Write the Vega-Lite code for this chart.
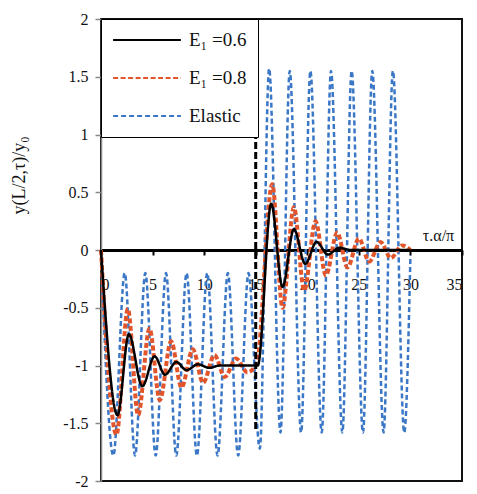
{
  "$schema": "https://vega.github.io/schema/vega-lite/v6.json",
  "autosize": "none",
  "padding": {"left": 101, "top": 19, "right": 15, "bottom": 13},
  "width": 361,
  "height": 462,
  "background": "white",
  "config": {
    "view": {"stroke": "#111", "strokeWidth": 2},
    "font": "Liberation Serif",
    "legend": {
      "title": null, "orient": "top-left", "offset": 0, "padding": 11,
      "strokeColor": "black", "fillColor": "white",
      "symbolType": "stroke", "symbolSize": 4600, "symbolStrokeWidth": 2,
      "clipHeight": 20, "rowPadding": 18,
      "labelFont": "Liberation Serif", "labelFontSize": 19, "labelColor": "#111", "labelOffset": 7
    }
  },
  "datasets": {
    "curves": [
      {"t": 0, "y": 0, "series": "Elastic"},
      {"t": 1.2, "y": -1.78, "series": "Elastic"},
      {"t": 2.3, "y": -0.2, "series": "Elastic"},
      {"t": 3.3, "y": -1.78, "series": "Elastic"},
      {"t": 4.3, "y": -0.2, "series": "Elastic"},
      {"t": 5.3, "y": -1.78, "series": "Elastic"},
      {"t": 6.3, "y": -0.2, "series": "Elastic"},
      {"t": 7.3, "y": -1.78, "series": "Elastic"},
      {"t": 8.3, "y": -0.2, "series": "Elastic"},
      {"t": 9.3, "y": -1.78, "series": "Elastic"},
      {"t": 10.3, "y": -0.2, "series": "Elastic"},
      {"t": 11.3, "y": -1.78, "series": "Elastic"},
      {"t": 12.3, "y": -0.2, "series": "Elastic"},
      {"t": 13.3, "y": -1.78, "series": "Elastic"},
      {"t": 14.3, "y": -0.2, "series": "Elastic"},
      {"t": 15.4, "y": -1.72, "series": "Elastic"},
      {"t": 16.3, "y": 1.57, "series": "Elastic"},
      {"t": 17.4, "y": -1.58, "series": "Elastic"},
      {"t": 18.3, "y": 1.55, "series": "Elastic"},
      {"t": 19.4, "y": -1.58, "series": "Elastic"},
      {"t": 20.3, "y": 1.55, "series": "Elastic"},
      {"t": 21.4, "y": -1.58, "series": "Elastic"},
      {"t": 22.3, "y": 1.55, "series": "Elastic"},
      {"t": 23.4, "y": -1.58, "series": "Elastic"},
      {"t": 24.3, "y": 1.55, "series": "Elastic"},
      {"t": 25.4, "y": -1.58, "series": "Elastic"},
      {"t": 26.3, "y": 1.55, "series": "Elastic"},
      {"t": 27.4, "y": -1.58, "series": "Elastic"},
      {"t": 28.3, "y": 1.55, "series": "Elastic"},
      {"t": 29.4, "y": -1.58, "series": "Elastic"},
      {"t": 30, "y": -0.05, "series": "Elastic"},

      {"t": 0, "y": 0, "series": "E₁ =0.8"},
      {"t": 1.5, "y": -1.6, "series": "E₁ =0.8"},
      {"t": 2.6, "y": -0.51, "series": "E₁ =0.8"},
      {"t": 3.6, "y": -1.43, "series": "E₁ =0.8"},
      {"t": 4.7, "y": -0.68, "series": "E₁ =0.8"},
      {"t": 5.7, "y": -1.3, "series": "E₁ =0.8"},
      {"t": 6.8, "y": -0.79, "series": "E₁ =0.8"},
      {"t": 7.8, "y": -1.19, "series": "E₁ =0.8"},
      {"t": 8.9, "y": -0.86, "series": "E₁ =0.8"},
      {"t": 9.9, "y": -1.15, "series": "E₁ =0.8"},
      {"t": 11.0, "y": -0.91, "series": "E₁ =0.8"},
      {"t": 12.0, "y": -1.1, "series": "E₁ =0.8"},
      {"t": 13.1, "y": -0.94, "series": "E₁ =0.8"},
      {"t": 14.2, "y": -1.06, "series": "E₁ =0.8"},
      {"t": 15.1, "y": -0.98, "series": "E₁ =0.8"},
      {"t": 16.6, "y": 0.57, "series": "E₁ =0.8"},
      {"t": 17.6, "y": -0.5, "series": "E₁ =0.8"},
      {"t": 18.7, "y": 0.37, "series": "E₁ =0.8"},
      {"t": 19.7, "y": -0.35, "series": "E₁ =0.8"},
      {"t": 20.8, "y": 0.25, "series": "E₁ =0.8"},
      {"t": 21.8, "y": -0.22, "series": "E₁ =0.8"},
      {"t": 22.9, "y": 0.15, "series": "E₁ =0.8"},
      {"t": 23.9, "y": -0.15, "series": "E₁ =0.8"},
      {"t": 25.0, "y": 0.1, "series": "E₁ =0.8"},
      {"t": 26.0, "y": -0.1, "series": "E₁ =0.8"},
      {"t": 27.1, "y": 0.07, "series": "E₁ =0.8"},
      {"t": 28.1, "y": -0.07, "series": "E₁ =0.8"},
      {"t": 29.2, "y": 0.04, "series": "E₁ =0.8"},
      {"t": 30, "y": 0, "series": "E₁ =0.8"},

      {"t": 0, "y": 0, "series": "E₁ =0.6"},
      {"t": 1.6, "y": -1.43, "series": "E₁ =0.6"},
      {"t": 2.7, "y": -0.73, "series": "E₁ =0.6"},
      {"t": 4.0, "y": -1.18, "series": "E₁ =0.6"},
      {"t": 5.2, "y": -0.92, "series": "E₁ =0.6"},
      {"t": 6.2, "y": -1.08, "series": "E₁ =0.6"},
      {"t": 7.3, "y": -0.97, "series": "E₁ =0.6"},
      {"t": 8.3, "y": -1.04, "series": "E₁ =0.6"},
      {"t": 9.4, "y": -0.99, "series": "E₁ =0.6"},
      {"t": 10.5, "y": -1.02, "series": "E₁ =0.6"},
      {"t": 11.5, "y": -1.0, "series": "E₁ =0.6"},
      {"t": 15.2, "y": -1.0, "series": "E₁ =0.6"},
      {"t": 16.5, "y": 0.4, "series": "E₁ =0.6"},
      {"t": 17.6, "y": -0.32, "series": "E₁ =0.6"},
      {"t": 18.7, "y": 0.18, "series": "E₁ =0.6"},
      {"t": 19.8, "y": -0.12, "series": "E₁ =0.6"},
      {"t": 20.9, "y": 0.07, "series": "E₁ =0.6"},
      {"t": 22.0, "y": -0.04, "series": "E₁ =0.6"},
      {"t": 23.1, "y": 0.02, "series": "E₁ =0.6"},
      {"t": 24.2, "y": 0, "series": "E₁ =0.6"},
      {"t": 30, "y": 0, "series": "E₁ =0.6"}
    ],
    "marker": [{"t": 15, "lo": -1.55, "hi": 0.97}]
  },
  "encoding": {
    "x": {
      "field": "t", "type": "quantitative",
      "scale": {"domain": [0, 35], "nice": false, "zero": false},
      "axis": {
        "values": [0, 5, 10, 15, 20, 25, 30, 35],
        "labelExpr": "'' + datum.value",
        "offset": -231,
        "domainColor": "black", "domainWidth": 3,
        "tickColor": "black", "tickWidth": 2, "tickSize": 5,
        "labelPadding": 21, "labelFont": "Liberation Serif", "labelFontSize": 16, "labelColor": "#111",
        "grid": false,
        "title": "τ.α/π", "titleFont": "Liberation Serif", "titleFontSize": 16, "titleFontWeight": "normal", "titleColor": "#111",
        "titleX": 337, "titleY": -10, "titleAlign": "center", "titleBaseline": "alphabetic", "titleAngle": 0
      }
    }
  },
  "layer": [
    {
      "data": {"name": "curves"},
      "transform": [{"filter": "datum.series === 'Elastic'"}],
      "mark": {"type": "line", "interpolate": "monotone", "strokeWidth": 2.5},
      "encoding": {
        "y": {
          "field": "y", "type": "quantitative",
          "scale": {"domain": [-2, 2], "nice": false, "zero": false},
          "axis": {
            "values": [-2, -1.5, -1, -0.5, 0, 0.5, 1, 1.5, 2],
            "labelExpr": "'' + datum.value",
            "domainColor": "#888", "domainWidth": 1.5,
            "tickColor": "#888", "tickWidth": 1.5, "tickSize": 6,
            "labelPadding": 7, "labelFont": "Liberation Serif", "labelFontSize": 16, "labelColor": "#111",
            "grid": false,
            "title": "y(L/2,τ)/y₀", "titleFont": "Liberation Serif", "titleFontSize": 18, "titleFontWeight": "normal", "titleColor": "#111",
            "titleX": -82, "titleY": 156, "titleAngle": -90, "titleAlign": "center", "titleBaseline": "middle"
          }
        },
        "color": {
          "field": "series", "type": "nominal",
          "scale": {"domain": ["E₁ =0.6", "E₁ =0.8", "Elastic"], "range": ["#000000", "#E2552B", "#3A77C6"]}
        },
        "strokeDash": {
          "field": "series", "type": "nominal",
          "scale": {"domain": ["E₁ =0.6", "E₁ =0.8", "Elastic"], "range": [[1, 0], [5, 2.5], [5, 3]]}
        }
      }
    },
    {
      "data": {"name": "curves"},
      "transform": [{"filter": "datum.series === 'E₁ =0.8'"}],
      "mark": {"type": "line", "interpolate": "monotone", "strokeWidth": 4},
      "encoding": {
        "y": {"field": "y", "type": "quantitative"},
        "color": {"field": "series", "type": "nominal"},
        "strokeDash": {"field": "series", "type": "nominal"}
      }
    },
    {
      "data": {"name": "curves"},
      "transform": [{"filter": "datum.series === 'E₁ =0.6'"}],
      "mark": {"type": "line", "interpolate": "monotone", "strokeWidth": 2.5},
      "encoding": {
        "y": {"field": "y", "type": "quantitative"},
        "color": {"field": "series", "type": "nominal"},
        "strokeDash": {"field": "series", "type": "nominal"}
      }
    },
    {
      "data": {"name": "marker"},
      "mark": {"type": "rule", "color": "black", "strokeWidth": 3, "strokeDash": [7, 3]},
      "encoding": {
        "y": {"field": "lo", "type": "quantitative"},
        "y2": {"field": "hi"}
      }
    }
  ]
}
